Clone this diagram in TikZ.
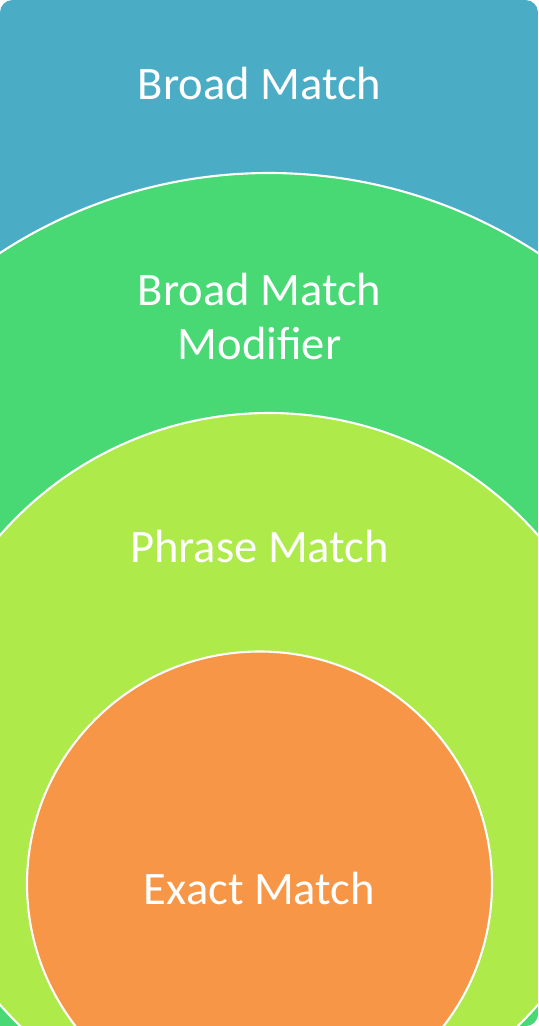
\documentclass[tikz,border=0pt]{standalone}
\usepackage{fontspec}
\setmainfont{Carlito}
\usepackage{tikz}
\definecolor{broadblue}{RGB}{75,172,198}
\definecolor{modgreen}{RGB}{72,216,116}
\definecolor{phraselime}{RGB}{173,234,74}
\definecolor{exactorange}{RGB}{247,150,70}

\begin{document}
\begin{tikzpicture}[
ring/.style={draw=white,line width=1.2pt},
lbl/.style={text=white,anchor=base,align=center,inner sep=0pt,font=\fontsize{26.5}{30.7}\selectfont}]
\useasboundingbox (0,0) rectangle (10.76,-20.52);
\clip[rounded corners=0.25cm] (0,-20.52)--(0,0)--(10.76,0)--(10.76,-20.52)[sharp corners]--cycle;
\fill[broadblue] (0,0) rectangle (10.76,-20.52);
\draw[ring,fill=modgreen] (5.38,-13.30) circle (9.84);
\draw[ring,fill=phraselime] (5.38,-15.40) circle (7.14);
\draw[ring,fill=exactorange] (5.19,-17.68) circle (4.65);
\node[lbl] (broad) at (5.19,-1.98) {Broad Match};
\node[lbl] (modifier) at (5.19,-7.18) {Broad Match\\Modifier};
\node[lbl] (phrase) at (5.19,-11.24) {Phrase Match};
\node[lbl] (exact) at (5.19,-18.08) {Exact Match};
\end{tikzpicture}
\end{document}
